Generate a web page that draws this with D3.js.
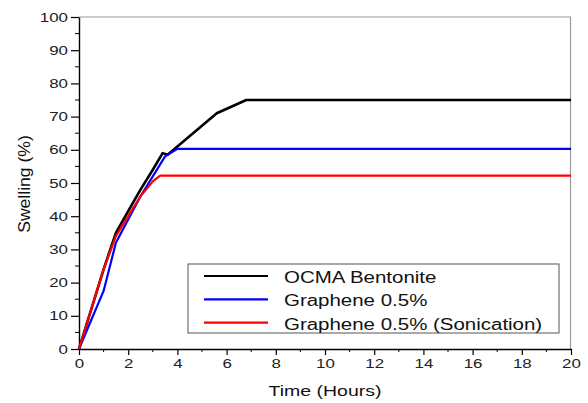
<!DOCTYPE html>
<html>
<head>
<meta charset="utf-8">
<script src="https://cdn.jsdelivr.net/npm/d3@7"></script>
<style>
  body { margin: 0; background: #fff; }
  svg { display: block; font-family: "Liberation Sans", Arial, sans-serif; }
</style>
</head>
<body>
<svg id="chart" width="588" height="403"></svg>
<script>
// data
const seriesNames = ["OCMA Bentonite", "Graphene 0.5%", "Graphene 0.5% (Sonication)"];
const seriesColors = ["#000000", "#0000ff", "#ff0000"];

const ocmaHours = [0, 1, 1.5, 2, 2.5, 3, 3.4, 3.6, 4, 5.6, 6.8, 20];
const ocmaSwell = [0, 24, 35, 41.5, 48, 54, 59, 58.5, 61, 71, 75, 75];

const grapheneHours = [0, 1, 1.5, 2, 2.5, 3, 3.5, 4, 20];
const grapheneSwell = [0, 17.5, 32, 39, 46, 52, 58, 60.3, 60.3];

const sonicHours = [0, 1, 1.5, 2, 2.5, 3, 3.3, 20];
const sonicSwell = [0, 24, 34, 40, 46, 50.5, 52.2, 52.2];

const xTicks = [0, 2, 4, 6, 8, 10, 12, 14, 16, 18, 20];
const yTicks = [0, 10, 20, 30, 40, 50, 60, 70, 80, 90, 100];

const series = [
    { name: seriesNames[0], color: seriesColors[0], width: 2.6, pts: d3.zip(ocmaHours, ocmaSwell) },
    { name: seriesNames[1], color: seriesColors[1], width: 2.2, pts: d3.zip(grapheneHours, grapheneSwell) },
    { name: seriesNames[2], color: seriesColors[2], width: 2.2, pts: d3.zip(sonicHours, sonicSwell) }
];

// the source picture is squeezed vertically, so its text is wider than normal
const stretch = 1.3;

const svg = d3.select("#chart");
const plotLeft = 79, plotRight = 571, plotTop = 17, plotBottom = 349;

const x = d3.scaleLinear().domain([0, 20]).range([plotLeft, plotRight]);
const y = d3.scaleLinear().domain([0, 100]).range([plotBottom, plotTop]);

// frame (top and right are light grey)
svg.append("line")
    .attr("x1", plotLeft).attr("x2", plotRight)
    .attr("y1", plotTop).attr("y2", plotTop)
    .style("stroke", "#999").style("stroke-width", 1.2);
svg.append("line")
    .attr("x1", plotRight - 0.5).attr("x2", plotRight - 0.5)
    .attr("y1", plotTop).attr("y2", plotBottom)
    .style("stroke", "#999").style("stroke-width", 1.2);

// minor ticks
const xMinor = d3.range(1, 20, 2);
const yMinor = d3.range(5, 100, 10);

const xAxis = svg.append("g")
    .attr("transform", "translate(0," + plotBottom + ")")
    .call(d3.axisBottom(x).tickValues(xTicks).tickSize(6).tickSizeOuter(0).tickPadding(4));
xAxis.selectAll(".minor").data(xMinor).enter().append("line")
    .attr("class", "minor")
    .attr("x1", d => x(d)).attr("x2", d => x(d))
    .attr("y1", 0).attr("y2", 3)
    .style("stroke", "#000");

const yAxis = svg.append("g")
    .attr("transform", "translate(" + plotLeft + ",0)")
    .call(d3.axisLeft(y).tickValues(yTicks).tickSize(8).tickSizeOuter(0).tickPadding(3));
yAxis.selectAll(".minor").data(yMinor).enter().append("line")
    .attr("class", "minor")
    .attr("y1", d => y(d)).attr("y2", d => y(d))
    .attr("x1", 0).attr("x2", -4)
    .style("stroke", "#000");

[xAxis, yAxis].forEach(a => {
    a.select(".domain").style("stroke", "#000").style("stroke-width", 1.4);
    a.selectAll(".tick line").style("stroke", "#000").style("stroke-width", 1.2);
    a.selectAll(".tick text")
        .style("font-family", "Liberation Sans, Arial, sans-serif")
        .style("font-size", "13px")
        .style("fill", "#222");
});
// widen tick labels
yAxis.selectAll(".tick text")
    .attr("x", -11 / stretch)
    .attr("transform", "scale(" + stretch + ",1)");
xAxis.selectAll(".tick text")
    .attr("transform", "scale(" + stretch + ",1)");

// axis titles
svg.append("text")
    .attr("transform", "translate(" + x(10) + ",396)scale(" + stretch + ",1)")
    .attr("text-anchor", "middle")
    .style("font-size", "15px").style("fill", "#111")
    .text("Time (Hours)");
svg.append("text")
    .attr("transform", "translate(30," + (y(50) + 1) + ")rotate(-90)scale(1.1,1)")
    .attr("text-anchor", "middle")
    .style("font-size", "16px").style("fill", "#111")
    .text("Swelling (%)");

// curves
const line = d3.line().x(d => x(d[0])).y(d => y(d[1]));
svg.selectAll(".curve").data(series).enter().append("path")
    .attr("class", "curve")
    .attr("d", d => line(d.pts))
    .style("fill", "none")
    .style("stroke", d => d.color)
    .style("stroke-width", d => d.width)
    .style("stroke-linejoin", "round");

// legend
const legend = svg.append("g");
legend.append("rect")
    .attr("x", 188).attr("y", 264)
    .attr("width", 371).attr("height", 69)
    .style("fill", "#fff").style("stroke", "#555").style("stroke-width", 1);
const items = legend.selectAll(".item").data(series).enter().append("g")
    .attr("class", "item")
    .attr("transform", (d, i) => "translate(0," + (276 + i * 23.3) + ")");
items.append("line")
    .attr("x1", 204).attr("x2", 268)
    .style("stroke", d => d.color).style("stroke-width", 2.2);
items.append("text")
    .attr("transform", "translate(284,7)scale(1.28,1)")
    .style("font-size", "16px").style("fill", "#111")
    .text(d => d.name);
</script>
</body>
</html>
